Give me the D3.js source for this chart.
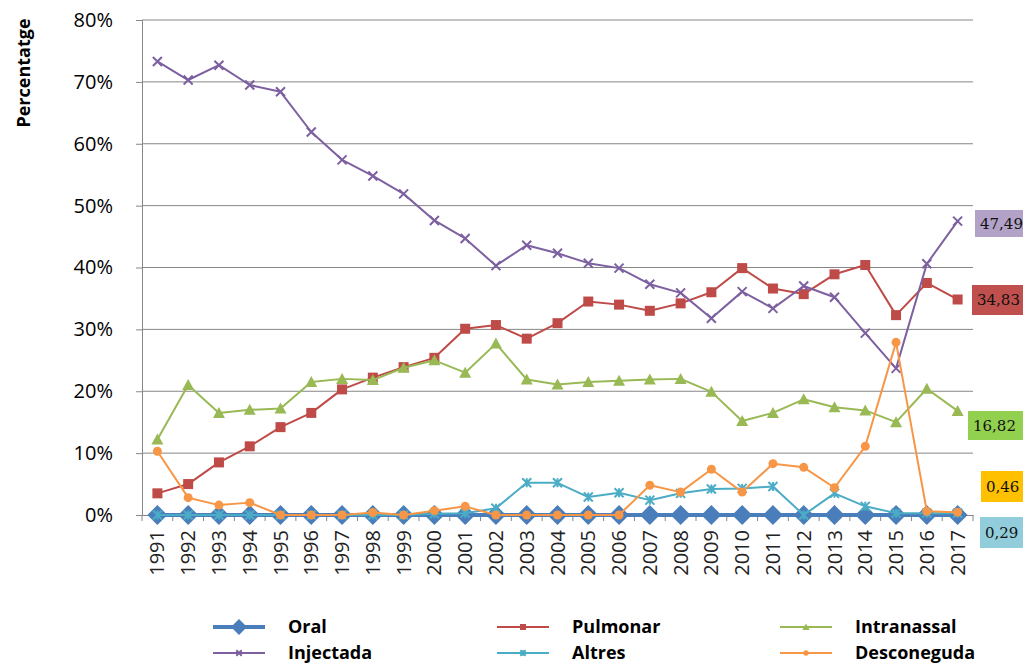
<!DOCTYPE html>
<html><head><meta charset="utf-8">
<script src="https://cdn.jsdelivr.net/npm/d3@7/dist/d3.min.js"></script>
<style>body{margin:0;background:#fff}svg{display:block}</style>
</head><body>
<svg id="c" width="1023" height="664"></svg>
<script>
const years = [1991,1992,1993,1994,1995,1996,1997,1998,1999,2000,2001,2002,2003,2004,2005,2006,2007,2008,2009,2010,2011,2012,2013,2014,2015,2016,2017];
const oral = [0,0,0,0,0,0,0,0,0,0,0,0,0,0,0,0,0,0,0,0,0,0,0,0,0,0,0];
const pulmonar = [3.5,5.0,8.5,11.1,14.2,16.5,20.3,22.2,23.9,25.4,30.1,30.7,28.5,31.0,34.5,34.0,33.0,34.2,36.0,39.9,36.6,35.7,38.9,40.4,32.3,37.5,34.83];
const intranassal = [12.2,21.0,16.5,17.0,17.2,21.5,22.0,21.8,23.8,25.0,23.0,27.7,21.9,21.1,21.5,21.7,21.9,22.0,19.9,15.2,16.5,18.7,17.4,16.9,15.0,20.4,16.82];
const injectada = [73.3,70.3,72.7,69.5,68.4,61.9,57.4,54.8,51.9,47.6,44.7,40.3,43.6,42.3,40.7,39.9,37.3,35.9,31.8,36.1,33.4,37.0,35.2,29.4,23.7,40.6,47.49];
const altres = [0,0,0,0,0,0,0,0,0,0.2,0.3,1.1,5.2,5.2,2.9,3.6,2.4,3.5,4.2,4.3,4.6,0,3.5,1.4,0.3,0.3,0.29];
const desconeguda = [10.3,2.8,1.6,2.0,0,0,0,0.4,0,0.7,1.4,0,0,0,0,0,4.8,3.7,7.4,3.7,8.3,7.7,4.4,11.1,27.9,0.6,0.46];
const yTicks = [0,10,20,30,40,50,60,70,80];
const endLabels = ["47,49","34,83","16,82","0,46","0,29"];

const series = [
  {name:"Oral", data:oral, color:"#4a7ebb", width:4, sym:"diamond"},
  {name:"Pulmonar", data:pulmonar, color:"#be4b48", width:2, sym:"square"},
  {name:"Intranassal", data:intranassal, color:"#98b954", width:2, sym:"triangle"},
  {name:"Injectada", data:injectada, color:"#7d60a0", width:2, sym:"x"},
  {name:"Altres", data:altres, color:"#4bacc6", width:2, sym:"star"},
  {name:"Desconeguda", data:desconeguda, color:"#f79646", width:2, sym:"circle"}
];

const svg = d3.select("#c");
const L=142, R=973, T=20, B=515;
const x = d3.scaleBand().domain(years).range([L,R]);
const cx = d => x(d)+x.bandwidth()/2;
const y = d3.scaleLinear().domain([0,80]).range([B,T]);

// gridlines
svg.append("g").selectAll("line").data(yTicks.filter(t=>t>0)).join("line")
  .attr("x1",L).attr("x2",R).attr("y1",d=>y(d)).attr("y2",d=>y(d))
  .attr("stroke","#868686").attr("stroke-width",1);

// y axis
const ya = svg.append("g").attr("transform",`translate(${L},0)`)
  .call(d3.axisLeft(y).tickValues(yTicks).tickSize(6).tickPadding(23).tickFormat(d=>d+"%"));
ya.select(".domain").attr("stroke","#868686");
ya.selectAll(".tick line").attr("stroke","#868686");
ya.selectAll("text").attr("font-family","'Open Sans',sans-serif").attr("font-size",20).attr("fill","#000");

// x axis
const xa = svg.append("g").attr("transform",`translate(0,${B})`)
  .call(d3.axisBottom(x).tickSize(0).tickFormat(d=>d));
xa.select(".domain").attr("stroke","#868686");
xa.selectAll(".tick text").attr("transform","rotate(-90)").attr("text-anchor","end")
  .attr("x",-15).attr("y",0).attr("dy","0.35em")
  .attr("font-family","'Open Sans',sans-serif").attr("font-size",20).attr("fill","#222");
svg.append("g").selectAll("line").data(years.concat([null])).join("line")
  .attr("x1",(d,i)=>L+i*x.step()).attr("x2",(d,i)=>L+i*x.step())
  .attr("y1",B).attr("y2",B+6).attr("stroke","#868686");

// y title
svg.append("text").attr("transform","translate(30,73) rotate(-90)").attr("text-anchor","middle")
  .attr("font-family","'Open Sans',sans-serif").attr("font-weight","bold").attr("font-size",18).text("Percentatge");

function symbol(g, s, px, py, scale){
  const c=s.color;
  if(s.sym==="diamond"){
    g.append("path").attr("d",`M${px},${py-10*scale}L${px+10*scale},${py}L${px},${py+10*scale}L${px-10*scale},${py}Z`).attr("fill",c);
  } else if(s.sym==="square"){
    g.append("rect").attr("x",px-5*scale).attr("y",py-5*scale).attr("width",10*scale).attr("height",10*scale).attr("fill",c);
  } else if(s.sym==="triangle"){
    g.append("path").attr("d",`M${px},${py-6*scale}L${px+6*scale},${py+5*scale}L${px-6*scale},${py+5*scale}Z`).attr("fill",c);
  } else if(s.sym==="x"){
    const r=4.5*scale;
    g.append("path").attr("d",`M${px-r},${py-r}L${px+r},${py+r}M${px-r},${py+r}L${px+r},${py-r}`).attr("stroke",c).attr("stroke-width",2);
  } else if(s.sym==="star"){
    const r=4.5*scale;
    g.append("path").attr("d",`M${px-r},${py-r}L${px+r},${py+r}M${px-r},${py+r}L${px+r},${py-r}M${px},${py-r}L${px},${py+r}`).attr("stroke",c).attr("stroke-width",2);
  } else if(s.sym==="circle"){
    g.append("circle").attr("cx",px).attr("cy",py).attr("r",4.5*scale).attr("fill",c);
  }
}

const line = d3.line().x((d,i)=>cx(years[i])).y(d=>y(d));
series.forEach(s=>{
  const g=svg.append("g");
  g.append("path").datum(s.data).attr("d",line).attr("fill","none").attr("stroke",s.color).attr("stroke-width",s.width).attr("stroke-linejoin","round");
  s.data.forEach((v,i)=>symbol(g,s,cx(years[i]),y(v),1));
});

// end labels
const boxes = [
  {t:endLabels[0], fill:"#b3a2c7", x:975, y:210, w:48, h:27},
  {t:endLabels[1], fill:"#c0504d", x:972, y:285, w:51, h:30},
  {t:endLabels[2], fill:"#92d050", x:968, y:411, w:55, h:29},
  {t:endLabels[3], fill:"#ffc000", x:981, y:471, w:42, h:31},
  {t:endLabels[4], fill:"#92cddc", x:980, y:517, w:43, h:31}
];
const bg = svg.append("g").selectAll("g").data(boxes).join("g");
bg.append("rect").attr("x",d=>d.x).attr("y",d=>d.y).attr("width",d=>d.w+10).attr("height",d=>d.h).attr("fill",d=>d.fill);
bg.append("text").attr("x",d=>d.x+5).attr("y",d=>d.y+d.h/2).attr("dy","0.35em")
  .attr("font-family","'DejaVu Serif',serif").attr("font-size",15).attr("fill","#111").text(d=>d.t);

// legend
const legPos = [
  {x:213,y:627},{x:497,y:627},{x:780,y:627},
  {x:213,y:653},{x:497,y:653},{x:780,y:653}
];
series.forEach((s,i)=>{
  const p=legPos[i];
  const g=svg.append("g");
  g.append("line").attr("x1",p.x).attr("x2",p.x+52).attr("y1",p.y).attr("y2",p.y).attr("stroke",s.color).attr("stroke-width",s.width);
  symbol(g,s,p.x+26,p.y,i===0?0.8:0.6);
  g.append("text").attr("x",p.x+75).attr("y",p.y).attr("dy","0.35em")
    .attr("font-family","'Open Sans',sans-serif").attr("font-weight","bold").attr("font-size",18).text(s.name);
});
</script>
</body></html>
